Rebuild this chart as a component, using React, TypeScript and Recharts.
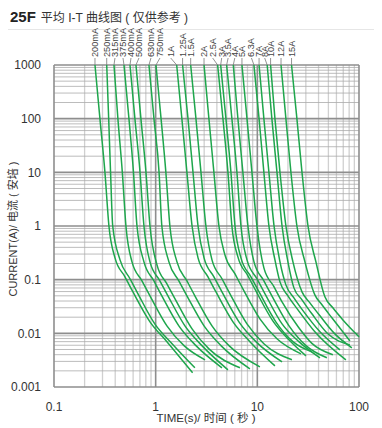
import React from 'react';
import { LineChart, Line, XAxis, YAxis, CartesianGrid } from 'recharts';

const FONT = '"Liberation Sans", Arial, "Noto Sans CJK SC", sans-serif';
const GREEN = '#1ea64c';

// [time (s), current (A)]
const C200MA = [[0.253, 1000], [0.283, 100], [0.317, 10], [0.347, 1], [0.398, 0.255], [0.499, 0.113], [0.598, 0.059], [0.879, 0.0164], [1.29, 0.007], [2.31, 0.00184]];
const C250MA = [[0.33, 1000], [0.345, 100], [0.36, 10], [0.378, 1], [0.446, 0.234], [0.559, 0.104], [0.67, 0.0545], [0.98, 0.015], [1.45, 0.0064], [2.43, 0.00228]];
const C315MA = [[0.389, 1000], [0.425, 100], [0.47, 10], [0.51, 1], [0.585, 0.215], [0.733, 0.095], [0.879, 0.05], [1.29, 0.0138], [1.9, 0.0059], [3.06, 0.00321]];
const C375MA = [[0.488, 1000], [0.546, 100], [0.605, 10], [0.655, 1], [0.767, 0.215], [0.962, 0.095], [1.15, 0.05], [1.69, 0.0138], [2.49, 0.0059], [4.49, 0.00228]];
const C400MA = [[0.559, 1000], [0.625, 100], [0.702, 10], [0.767, 1], [0.879, 0.215], [1.1, 0.095], [1.32, 0.05], [1.94, 0.0138], [2.85, 0.0059], [5.14, 0.00209]];
const C500MA = [[0.64, 1000], [0.716, 100], [0.803, 10], [0.879, 1], [1.03, 0.189], [1.29, 0.0836], [1.55, 0.0439], [2.28, 0.0121], [3.34, 0.00514], [6.75, 0.00228]];
const C630MA = [[0.859, 1000], [0.962, 100], [1.08, 10], [1.15, 1], [1.35, 0.215], [1.69, 0.095], [2.03, 0.05], [2.99, 0.0138], [4.39, 0.0059], [8.45, 0.00218]];
const C750MA = [[1.007, 1000], [1.13, 100], [1.26, 10], [1.38, 1], [1.62, 0.215], [2.03, 0.095], [2.43, 0.05], [3.58, 0.0138], [5.26, 0.0059], [10.6, 0.00238]];
const C1A = [[1.61, 1000], [1.81, 100], [2.03, 10], [2.28, 1], [2.61, 0.255], [3.27, 0.113], [3.92, 0.059], [5.76, 0.0164], [8.45, 0.007], [14.9, 0.00248]];
const C1_25A = [[1.84, 1000], [2.08, 100], [2.33, 10], [2.61, 1], [2.99, 0.255], [3.74, 0.113], [4.49, 0.059], [6.59, 0.0164], [9.68, 0.007], [17.5, 0.00294]];
const C1_5A = [[2.21, 1000], [2.49, 100], [2.79, 10], [3.12, 1], [3.58, 0.234], [4.49, 0.104], [5.38, 0.0545], [7.91, 0.015], [11.6, 0.0064], [21.9, 0.00321]];
const C2A = [[2.99, 1000], [3.34, 100], [3.74, 10], [4.19, 1], [4.8, 0.29], [6.03, 0.128], [7.21, 0.0675], [10.6, 0.0186], [15.6, 0.0079], [26.9, 0.00415]];
const C2_5A = [[4.07, 1000], [4.59, 100], [5.14, 10], [5.62, 1], [6.44, 0.266], [8.08, 0.118], [9.68, 0.0618], [14.2, 0.0171], [20.9, 0.00725], [30.1, 0.0038]];
const C3A = [[4.36, 1000], [4.91, 100], [5.5, 10], [6.03, 1], [6.9, 0.255], [8.65, 0.113], [10.4, 0.059], [15.2, 0.0164], [22.4, 0.007], [34.4, 0.00452]];
const C3_5A = [[4.99, 1000], [5.62, 100], [6.3, 10], [6.9, 1], [7.91, 0.234], [9.91, 0.104], [11.9, 0.0545], [17.5, 0.015], [25.6, 0.007], [41.3, 0.0035]];
const C4A = [[5.8, 1000], [6.44, 100], [7.21, 10], [8.08, 1], [9.27, 0.215], [11.6, 0.095], [13.9, 0.05], [20.5, 0.0138], [30.1, 0.0059], [48.3, 0.0035]];
const C5A = [[7.06, 1000], [7.91, 100], [8.85, 10], [9.91, 1], [11.6, 0.166], [14.6, 0.0735], [17.5, 0.0386], [25.6, 0.0127], [34.4, 0.0065], [55.3, 0.004]];
const C6_3A = [[9.26, 1000], [10.4, 100], [11.6, 10], [13, 1], [14.9, 0.234], [16.7, 0.091], [20, 0.0499], [25.1, 0.0274], [36.8, 0.0107], [74.3, 0.00321]];
const C7A = [[10.4, 1000], [11.6, 100], [13, 10], [14.6, 1], [16.7, 0.215], [19.1, 0.08], [22.9, 0.0458], [28.7, 0.0251], [41.3, 0.0107], [64.9, 0.00493]];
const C8A = [[12.5, 1000], [13.9, 100], [15.6, 10], [17.5, 1], [20, 0.215], [22.9, 0.0703], [27.5, 0.0421], [34.4, 0.0231], [49.4, 0.0098], [81.3, 0.0061]];
const C10A = [[13.5, 1000], [14.9, 100], [16.7, 10], [19.1, 1], [22.4, 0.215], [27.5, 0.0593], [32.9, 0.037], [41.3, 0.0212], [56.6, 0.0102], [85.1, 0.00537]];
const C12A = [[17.1, 1000], [19.1, 100], [21.4, 10], [24.5, 1], [29.4, 0.215], [36.8, 0.0521], [43.2, 0.034], [54.1, 0.0195], [81.3, 0.00724]];
const C15A = [[21.7, 1000], [24.5, 100], [27.5, 10], [31.5, 1], [37.7, 0.215], [46.2, 0.0479], [55.3, 0.0299], [69.5, 0.0178], [100, 0.0086]];

const NAMES = ['200mA', '250mA', '315mA', '375mA', '400mA', '500mA', '630mA', '750mA', '1A', '1.25A', '1.5A', '2A', '2.5A', '3A', '3.5A', '4A', '5A', '6.3A', '7A', '8A', '10A', '12A', '15A'];
const CURVES = [C200MA, C250MA, C315MA, C375MA, C400MA, C500MA, C630MA, C750MA, C1A, C1_25A, C1_5A, C2A, C2_5A, C3A, C3_5A, C4A, C5A, C6_3A, C7A, C8A, C10A, C12A, C15A];
// horizontal shift (px) of each top label from where its curve starts
const LABEL_DX = [0, 0, 1, -1, 1, 3, 2, 4, -6, 0, 0, 0, -5, 1, 1.5, 1.5, 0, -2.5, 0, -2.5, 0, 0, 0];

const X_TICKS = [0.1, 1, 10, 100];
const Y_TICKS = [0.001, 0.01, 0.1, 1, 10, 100, 1000];
const X_MINOR = [0.2, 0.3, 0.4, 0.5, 0.6, 0.7, 0.8, 0.9, 2, 3, 4, 5, 6, 7, 8, 9, 20, 30, 40, 50, 60, 70, 80, 90];
const Y_MINOR = [
  0.002, 0.003, 0.004, 0.005, 0.006, 0.007, 0.008, 0.009,
  0.02, 0.03, 0.04, 0.05, 0.06, 0.07, 0.08, 0.09,
  0.2, 0.3, 0.4, 0.5, 0.6, 0.7, 0.8, 0.9,
  2, 3, 4, 5, 6, 7, 8, 9,
  20, 30, 40, 50, 60, 70, 80, 90,
  200, 300, 400, 500, 600, 700, 800, 900,
];

const seriesData = CURVES.map((pts) => pts.map(([t, c]) => ({ t, c })));

const topLabel = (i: number) => (p: any) => {
  if (p.index !== 0) return <g />;
  const x = Number(p.x);
  const y = Number(p.y);
  const lx = x + LABEL_DX[i];
  return (
    <g>
      <line x1={lx} y1={y - 7} x2={x} y2={y} stroke="#777" strokeWidth={0.8} />
      <text
        x={lx}
        y={y - 8}
        transform={`rotate(-90 ${lx} ${y - 8})`}
        textAnchor="start"
        dominantBaseline="central"
        fontSize={9.2}
        fill="#444"
        fontFamily={FONT}
      >
        {NAMES[i]}
      </text>
    </g>
  );
};

export default function App() {
  return (
    <div style={{ position: 'absolute', left: 0, top: 0, width: 382, height: 428, background: '#fff', fontFamily: FONT, color: '#333' }}>
      <div style={{ position: 'absolute', left: 10, top: 9, whiteSpace: 'nowrap', lineHeight: '16px' }}>
        <b style={{ fontSize: 15, color: '#222' }}>25F</b>
        <span style={{ fontSize: 12, marginLeft: 5 }}>平均 I-T 曲线图 ( 仅供参考 )</span>
      </div>
      <div style={{ position: 'absolute', left: 8, right: 8, top: 29, height: 1, background: '#e6e6e6' }} />
      <LineChart
        width={382}
        height={428}
        margin={{ top: 65, right: 23, bottom: 0, left: 0 }}
        style={{ position: 'absolute', left: 0, top: 0 }}
      >
        <CartesianGrid horizontal={false} verticalValues={X_MINOR} stroke="#d0d0d0" strokeWidth={1.3} />
        <CartesianGrid vertical={false} horizontalValues={Y_MINOR} stroke="#ababab" strokeWidth={0.8} />
        <CartesianGrid verticalValues={X_TICKS} horizontalValues={Y_TICKS} stroke="#8e8e8e" strokeWidth={1.6} />
        <XAxis
          dataKey="t"
          type="number"
          scale="log"
          domain={[0.1, 100]}
          ticks={X_TICKS}
          tickFormatter={(v) => String(v)}
          height={41}
          axisLine={false}
          tickLine={false}
          tickMargin={9}
          tick={{ fontSize: 12, fill: '#333', fontFamily: FONT }}
          interval={0}
        />
        <YAxis
          dataKey="c"
          type="number"
          scale="log"
          domain={[0.001, 1000]}
          ticks={Y_TICKS}
          tickFormatter={(v) => String(v)}
          width={54}
          axisLine={false}
          tickLine={false}
          tickMargin={7}
          tick={{ fontSize: 12, fill: '#333', fontFamily: FONT }}
          interval={0}
        />
        {seriesData.map((d, i) => (
          <Line
            key={NAMES[i]}
            data={d}
            dataKey="c"
            type="monotone"
            stroke={GREEN}
            strokeWidth={1.5}
            dot={false}
            isAnimationActive={false}
            label={topLabel(i)}
          />
        ))}
      </LineChart>
      <div
        style={{
          position: 'absolute',
          left: 12,
          top: 229,
          transform: 'translate(-50%, -50%) rotate(-90deg)',
          whiteSpace: 'nowrap',
          fontSize: 11,
        }}
      >
        CURRENT(A)/ 电流 ( 安培 )
      </div>
      <div
        style={{
          position: 'absolute',
          left: 206,
          top: 417,
          transform: 'translate(-50%, -50%)',
          whiteSpace: 'nowrap',
          fontSize: 11.5,
        }}
      >
        TIME(s)/ 时间 ( 秒 )
      </div>
    </div>
  );
}
